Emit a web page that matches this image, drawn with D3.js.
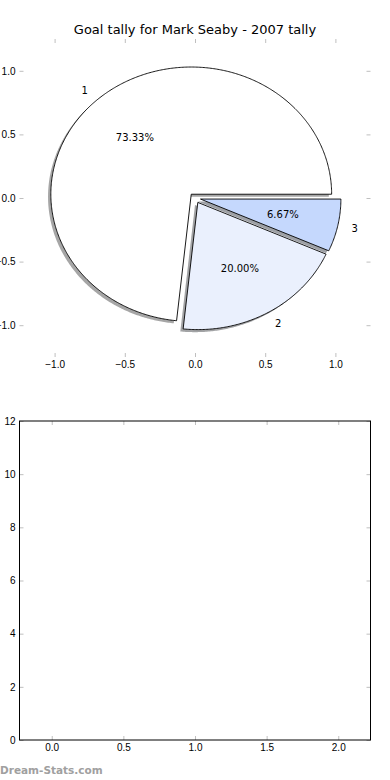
<!DOCTYPE html>
<html>
<head>
<meta charset="utf-8">
<script src="https://cdn.jsdelivr.net/npm/d3@7"></script>
<style>
  body { margin: 0; background: #fff; }
  svg { display: block; font-family: "DejaVu Sans", sans-serif; }
  .tk line { stroke: #bfbfbf; }
  .tk text { font-size: 10px; fill: #000; }
  .nodomain .domain { display: none; }
</style>
</head>
<body>
<div id="chart"></div>
<script>
// goal tally data
var sliceLabels = ["1", "2", "3"];
var goals = [11, 3, 1];
var sliceColors = ["#ffffff", "#eaf0fd", "#c5d8fd"];
var explodeBy = [0.04, 0.04, 0.04];
var pieTicks = [-1.0, -0.5, 0.0, 0.5, 1.0];
var barXTicks = [0.0, 0.5, 1.0, 1.5, 2.0];
var barYTicks = [0, 2, 4, 6, 8, 10, 12];

var W = 390, H = 780;
var svg = d3.select("#chart").append("svg")
    .attr("width", W)
    .attr("height", H);

// ---- pie axes ----
var pieBox = { left: 19.5, right: 370.5, top: 39, bottom: 357 };
var px = d3.scaleLinear().domain([-1.25, 1.25]).range([pieBox.left, pieBox.right]);
var py = d3.scaleLinear().domain([-1.25, 1.25]).range([pieBox.bottom, pieBox.top]);

svg.append("text")
    .attr("x", W / 2)
    .attr("y", 34)
    .attr("text-anchor", "middle")
    .style("font-size", "13px")
    .text("Goal tally for Mark Seaby - 2007 tally");

var fmt1 = d3.format(".1f");
function addTicks(g, axis) {
  g.attr("class", "tk nodomain").call(axis);
}
addTicks(svg.append("g").attr("transform", "translate(0," + pieBox.bottom + ")"),
  d3.axisBottom(px).tickValues(pieTicks).tickFormat(fmt1).tickSize(-4).tickPadding(4));
addTicks(svg.append("g").attr("transform", "translate(0," + pieBox.top + ")"),
  d3.axisTop(px).tickValues(pieTicks).tickFormat("").tickSize(-4));
addTicks(svg.append("g").attr("transform", "translate(" + pieBox.left + ",0)"),
  d3.axisLeft(py).tickValues(pieTicks).tickFormat(fmt1).tickSize(-4).tickPadding(4));
addTicks(svg.append("g").attr("transform", "translate(" + pieBox.right + ",0)"),
  d3.axisRight(py).tickValues(pieTicks).tickFormat("").tickSize(-4));

// pie angles: matplotlib style, start at 3 o'clock going counterclockwise
var arcs = d3.pie().sort(null).startAngle(0).endAngle(2 * Math.PI)(goals);
var total = d3.sum(goals);

var wedgeLine = d3.line()
    .x(function (d) { return px(d[0]); })
    .y(function (d) { return py(d[1]); });

function wedgePoints(a, i, ox, oy) {
  var mid = (a.startAngle + a.endAngle) / 2;
  var cx = explodeBy[i] * Math.cos(mid) + ox;
  var cy = explodeBy[i] * Math.sin(mid) + oy;
  var n = Math.max(4, Math.ceil((a.endAngle - a.startAngle) / 0.01));
  var pts = [[cx, cy]];
  for (var k = 0; k <= n; k++) {
    var t = a.startAngle + (a.endAngle - a.startAngle) * k / n;
    pts.push([cx + Math.cos(t), cy + Math.sin(t)]);
  }
  pts.push([cx, cy]);
  return pts;
}

// shadows go under every wedge
svg.append("g").selectAll("path")
    .data(arcs)
    .enter().append("path")
    .attr("d", function (d, i) { return wedgeLine(wedgePoints(d, i, -0.02, -0.02)) + "Z"; })
    .style("fill", function (d, i) {
      var c = d3.rgb(sliceColors[i]);
      return d3.rgb(c.r * 0.3, c.g * 0.3, c.b * 0.3);
    })
    .style("fill-opacity", 0.5)
    .style("stroke", "none");

svg.append("g").selectAll("path")
    .data(arcs)
    .enter().append("path")
    .attr("d", function (d, i) { return wedgeLine(wedgePoints(d, i, 0, 0)) + "Z"; })
    .style("fill", function (d, i) { return sliceColors[i]; })
    .style("stroke", "#000")
    .style("stroke-width", 0.9)
    .style("stroke-linejoin", "miter");

var pctFmt = d3.format(".2f");
arcs.forEach(function (a, i) {
  var mid = (a.startAngle + a.endAngle) / 2;
  var ex = explodeBy[i] * Math.cos(mid), ey = explodeBy[i] * Math.sin(mid);
  var lx = ex + 1.1 * Math.cos(mid), ly = ey + 1.1 * Math.sin(mid);
  svg.append("text")
      .attr("x", px(lx))
      .attr("y", py(ly))
      .attr("dy", "0.35em")
      .attr("text-anchor", lx > 0 ? "start" : "end")
      .style("font-size", "10px")
      .text(sliceLabels[i]);
  var tx = ex + 0.6 * Math.cos(mid), ty = ey + 0.6 * Math.sin(mid);
  svg.append("text")
      .attr("x", px(tx))
      .attr("y", py(ty))
      .attr("dy", "0.35em")
      .attr("text-anchor", "middle")
      .style("font-size", "10px")
      .text(pctFmt(100 * goals[i] / total) + "%");
});

// ---- empty second axes ----
var barBox = { left: 19.5, right: 370.5, top: 421, bottom: 740 };
var bx = d3.scaleLinear().domain([-0.225, 2.225]).range([barBox.left, barBox.right]);
var by = d3.scaleLinear().domain([0, 12]).range([barBox.bottom, barBox.top]);

addTicks(svg.append("g").attr("transform", "translate(0," + barBox.bottom + ")"),
  d3.axisBottom(bx).tickValues(barXTicks).tickFormat(fmt1).tickSize(-4).tickPadding(4));
addTicks(svg.append("g").attr("transform", "translate(0," + barBox.top + ")"),
  d3.axisTop(bx).tickValues(barXTicks).tickFormat("").tickSize(-4));
addTicks(svg.append("g").attr("transform", "translate(" + barBox.left + ",0)"),
  d3.axisLeft(by).tickValues(barYTicks).tickFormat(d3.format("d")).tickSize(-4).tickPadding(4));
addTicks(svg.append("g").attr("transform", "translate(" + barBox.right + ",0)"),
  d3.axisRight(by).tickValues(barYTicks).tickFormat("").tickSize(-4));

svg.append("rect")
    .attr("x", barBox.left)
    .attr("y", barBox.top)
    .attr("width", barBox.right - barBox.left)
    .attr("height", barBox.bottom - barBox.top)
    .style("fill", "none")
    .style("stroke", "#000")
    .style("stroke-width", 1);

// watermark
svg.append("text")
    .attr("x", 0)
    .attr("y", 774)
    .style("font-size", "10.5px")
    .style("font-weight", "bold")
    .style("fill", "#a0a0a0")
    .text("Dream-Stats.com");
</script>
</body>
</html>
